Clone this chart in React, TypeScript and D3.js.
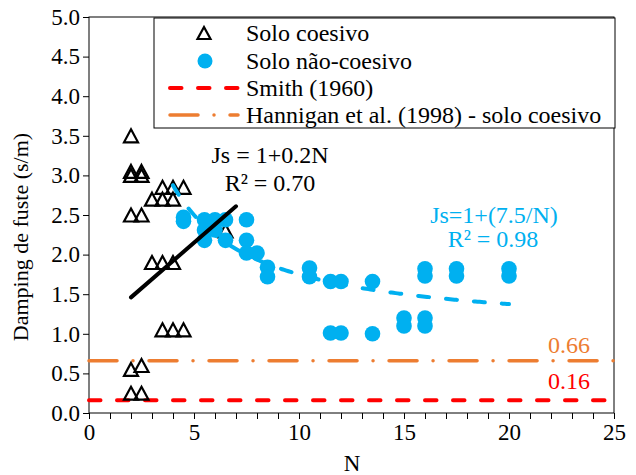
import React, { useEffect, useRef } from 'react';
import * as d3 from 'd3';

// Solo coesivo (triangles)
const cohesiveN = [2, 2, 2.5, 2, 2.5, 3.5, 4, 4.5, 3, 3.5, 4, 2, 2.5, 3, 3.5, 4, 3.5, 4, 4.5, 2, 2.5, 2, 2.5, 6.5];
const cohesiveJs = [3.5, 3.0, 3.0, 3.05, 3.05, 2.85, 2.85, 2.85, 2.7, 2.7, 2.7, 2.5, 2.5, 1.9, 1.9, 1.9, 1.05, 1.05, 1.05, 0.55, 0.6, 0.25, 0.25, 2.3];

// Solo não-coesivo (circles)
const nonCohesiveN = [4.5, 4.5, 5.5, 5.5, 5.5, 6, 6, 6.5, 6.5, 7.5, 7.5, 7.5, 8, 8.5, 8.5, 10.5, 10.5, 11.5, 12, 13.5, 16, 16, 17.5, 17.5, 20, 20, 11.5, 12, 13.5, 15, 15, 16, 16];
const nonCohesiveJs = [2.47, 2.42, 2.44, 2.31, 2.18, 2.44, 2.31, 2.44, 2.18, 2.44, 2.18, 2.02, 2.02, 1.84, 1.72, 1.83, 1.72, 1.66, 1.66, 1.66, 1.82, 1.73, 1.82, 1.73, 1.82, 1.73, 1.01, 1.01, 1.0, 1.2, 1.1, 1.2, 1.1];

// trend lines
const cohesiveFit = { a: 1.0, b: 0.23, from: 2, to: 7 };
const nonCohesiveFit = { a: 1.0, c: 7.5, from: 4, to: 20 };
const smithJs = 0.16;
const hanniganJs = 0.66;

const xTicks = d3.range(0, 26, 1);
const yTicks = d3.range(0, 5.01, 0.5);

const legendLabels = ['Solo coesivo', 'Solo não-coesivo', 'Smith (1960)', 'Hannigan et al. (1998) - solo coesivo'];

const BLUE = '#00B0F0';
const ORANGE = '#ED7D31';
const RED = '#FF0000';
const FONT = '"Liberation Serif", "Times New Roman", serif';

const triPath = (cx, cy, w = 14, h = 13) =>
  `M${cx},${cy - h / 2}L${cx + w / 2},${cy + h / 2}L${cx - w / 2},${cy + h / 2}Z`;

const App = () => {
  const ref = useRef();

  useEffect(() => {
    const svg = d3.select(ref.current);
    svg.selectAll('*').remove();

    const x = d3.scaleLinear().domain([0, 25]).range([89, 614]);
    const y = d3.scaleLinear().domain([0, 5]).range([413, 17]);

    // axes
    const xAxis = svg.append('g')
      .attr('transform', `translate(0,${y(0)})`)
      .call(d3.axisBottom(x).tickValues(xTicks).tickSize(6).tickPadding(5)
        .tickFormat(d => (d % 5 === 0 ? String(d) : '')));
    const yAxis = svg.append('g')
      .attr('transform', `translate(${x(0)},0)`)
      .call(d3.axisLeft(y).tickValues(yTicks).tickSize(6).tickPadding(3).tickFormat(d3.format('.1f')));
    [xAxis, yAxis].forEach(g => {
      g.select('.domain').remove();
      g.selectAll('line').attr('stroke', '#000').attr('stroke-width', 1);
      g.selectAll('text').attr('font-family', FONT).attr('font-size', 23).attr('fill', '#000');
    });

    // plot border
    svg.append('rect')
      .attr('x', x(0)).attr('y', y(5))
      .attr('width', x(25) - x(0)).attr('height', y(0) - y(5))
      .attr('fill', 'none').attr('stroke', '#000').attr('stroke-width', 1);

    // reference lines
    svg.append('line')
      .attr('x1', x(0)).attr('x2', x(25)).attr('y1', y(hanniganJs)).attr('y2', y(hanniganJs))
      .attr('stroke', ORANGE).attr('stroke-width', 3.5).attr('stroke-linecap', 'round')
      .attr('stroke-dasharray', '28 16 0.01 16');
    svg.append('line')
      .attr('x1', x(0)).attr('x2', x(25)).attr('y1', y(smithJs)).attr('y2', y(smithJs))
      .attr('stroke', RED).attr('stroke-width', 4).attr('stroke-linecap', 'round')
      .attr('stroke-dasharray', '11.5 16.5');

    // triangles
    svg.append('g').selectAll('path')
      .data(cohesiveN.map((n, i) => [n, cohesiveJs[i]]))
      .enter().append('path')
      .attr('d', d => triPath(x(d[0]), y(d[1])))
      .attr('fill', 'none').attr('stroke', '#000').attr('stroke-width', 2.2);

    // circles
    svg.append('g').selectAll('circle')
      .data(nonCohesiveN.map((n, i) => [n, nonCohesiveJs[i]]))
      .enter().append('circle')
      .attr('cx', d => x(d[0])).attr('cy', d => y(d[1])).attr('r', 7.8)
      .attr('fill', BLUE);

    // fit non-cohesive
    const nc = d3.range(nonCohesiveFit.from, nonCohesiveFit.to + 0.001, 0.1);
    svg.append('path')
      .attr('d', d3.line().x(n => x(n)).y(n => y(nonCohesiveFit.a + nonCohesiveFit.c / n))(nc))
      .attr('fill', 'none').attr('stroke', BLUE).attr('stroke-width', 4)
      .attr('stroke-linecap', 'round').attr('stroke-dasharray', '11 17');

    // fit cohesive
    const cf = [cohesiveFit.from, cohesiveFit.to];
    svg.append('path')
      .attr('d', d3.line().x(n => x(n)).y(n => y(cohesiveFit.a + cohesiveFit.b * n))(cf))
      .attr('fill', 'none').attr('stroke', '#000').attr('stroke-width', 4)
      .attr('stroke-linecap', 'round');

    // annotations
    const note = (tx, ty, txt, color, anchor = 'middle') =>
      svg.append('text').attr('x', tx).attr('y', ty).text(txt)
        .attr('font-family', FONT).attr('font-size', 24).attr('fill', color)
        .attr('text-anchor', anchor);
    note(270, 163, 'Js = 1+0.2N', '#000');
    note(270, 191, 'R² = 0.70', '#000');
    note(494, 223, 'Js=1+(7.5/N)', BLUE);
    note(493, 247, 'R² = 0.98', BLUE);
    note(548, 353, '0.66', ORANGE, 'start');
    note(548, 389, '0.16', RED, 'start');

    // axis titles
    svg.append('text').attr('x', 352).attr('y', 471).text('N')
      .attr('font-family', FONT).attr('font-size', 23).attr('text-anchor', 'middle');
    svg.append('text').attr('transform', 'translate(28,237) rotate(-90)').text('Damping de fuste (s/m)')
      .attr('font-family', FONT).attr('font-size', 22).attr('text-anchor', 'middle');

    // legend
    const lg = svg.append('g');
    lg.append('rect').attr('x', 154).attr('y', 18).attr('width', 461).attr('height', 110)
      .attr('fill', '#fff').attr('stroke', '#000').attr('stroke-width', 1);
    const rowY = [33, 61, 88, 115];
    lg.append('path').attr('d', triPath(204, rowY[0], 13, 12))
      .attr('fill', 'none').attr('stroke', '#000').attr('stroke-width', 2.2);
    lg.append('circle').attr('cx', 205).attr('cy', rowY[1]).attr('r', 7.5).attr('fill', BLUE);
    lg.append('line').attr('x1', 170).attr('x2', 238).attr('y1', rowY[2]).attr('y2', rowY[2])
      .attr('stroke', RED).attr('stroke-width', 4).attr('stroke-linecap', 'round')
      .attr('stroke-dasharray', '11.5 16.5');
    lg.append('line').attr('x1', 170).attr('x2', 238).attr('y1', rowY[3]).attr('y2', rowY[3])
      .attr('stroke', ORANGE).attr('stroke-width', 3.5).attr('stroke-linecap', 'round')
      .attr('stroke-dasharray', '28 16 0.01 16');
    lg.selectAll('text.lbl').data(legendLabels).enter().append('text')
      .attr('class', 'lbl')
      .attr('x', 246).attr('y', (d, i) => rowY[i]).attr('dy', '0.35em')
      .text(d => d)
      .attr('font-family', FONT).attr('font-size', 24).attr('fill', '#000');
  }, []);

  return (
    <svg ref={ref} width={636} height={475}
      style={{ position: 'absolute', left: 0, top: 0, background: '#fff' }}></svg>
  );
};

export default App;
